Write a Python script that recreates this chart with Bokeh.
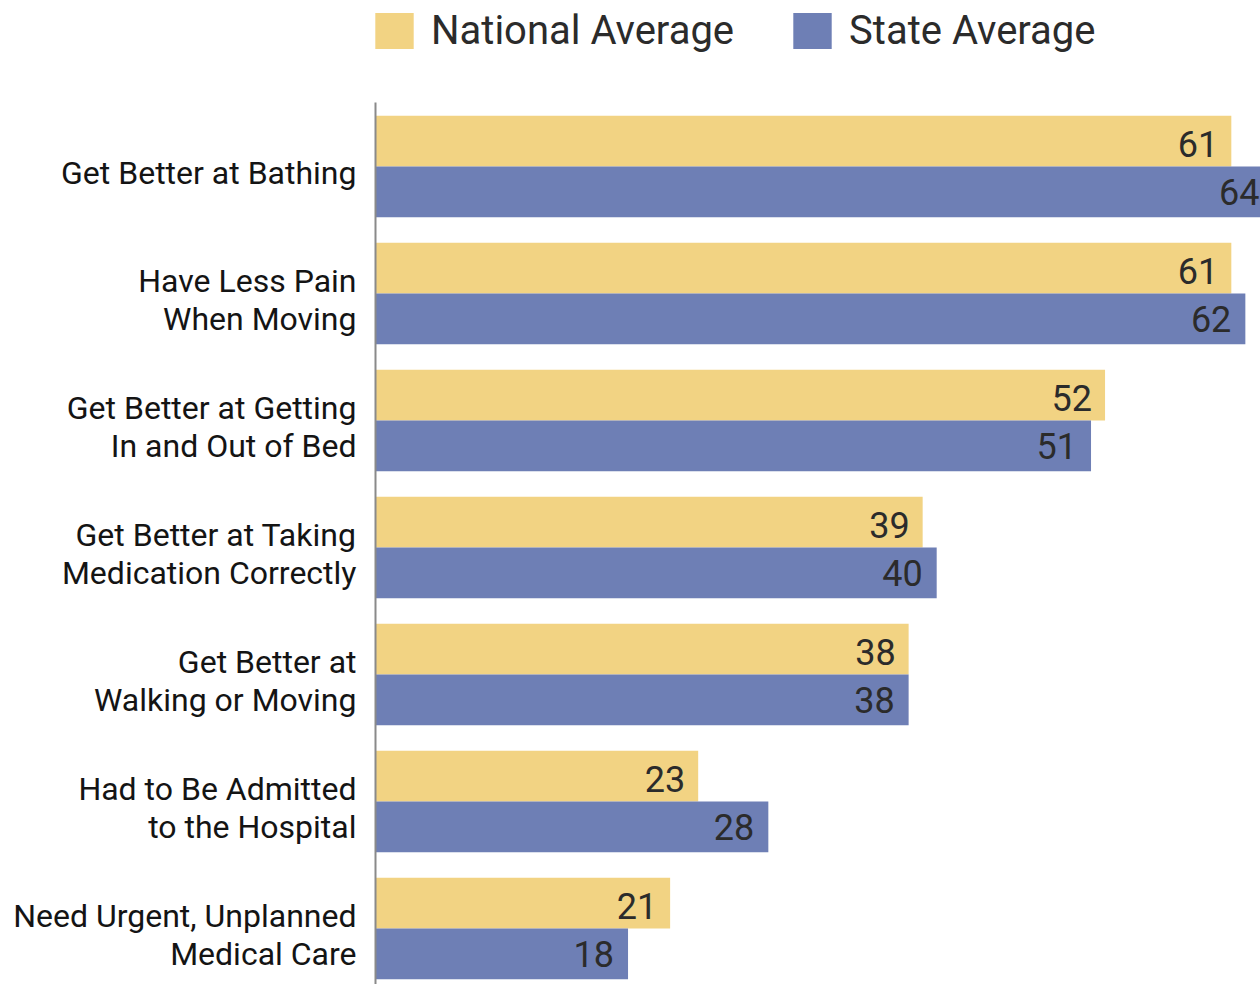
from bokeh.plotting import figure
from bokeh.models import Range1d, FixedTicker, Legend, LegendItem
from bokeh.core.properties import value
from bokeh.embed import file_html
from bokeh.resources import INLINE

categories = [
    "Get Better at Bathing",
    "Have Less Pain\nWhen Moving",
    "Get Better at Getting\nIn and Out of Bed",
    "Get Better at Taking\nMedication Correctly",
    "Get Better at\nWalking or Moving",
    "Had to Be Admitted\nto the Hospital",
    "Need Urgent, Unplanned\nMedical Care",
]
national = [61, 61, 52, 39, 38, 23, 21]
state = [64, 62, 51, 40, 38, 28, 18]
series_names = ["National Average", "State Average"]
colors = ["#F2D383", "#6E7FB5"]

n = len(categories)
y_nat = [i + 0.3 for i in range(n)]
y_state = [i + 0.7 for i in range(n)]

p = figure(width=1260, height=984,
           x_range=Range1d(0, 63.08), y_range=Range1d(6.941, -0.807),
           output_backend="svg", toolbar_location=None,
           x_axis_location=None,
           min_border_left=375, min_border_right=0,
           min_border_top=0, min_border_bottom=0)
p.outline_line_color = None
p.xgrid.grid_line_color = None
p.ygrid.grid_line_color = None
p.background_fill_color = "white"
p.border_fill_color = "white"

r1 = p.hbar(y=y_nat, left=0, right=national, height=0.4,
            fill_color=colors[0], line_color=None)
r2 = p.hbar(y=y_state, left=0, right=state, height=0.4,
            fill_color=colors[1], line_color=None)

p.text(x=national, y=y_nat, text=[str(v) for v in national],
       x_offset=-13, y_offset=3, text_align="right", text_baseline="middle",
       text_font=value("Roboto"), text_font_size="36px", text_color="#2b2b2b")
p.text(x=state, y=y_state, text=[str(v) for v in state],
       x_offset=-14, y_offset=0.5, text_align="right", text_baseline="middle",
       text_font=value("Roboto"), text_font_size="36px", text_color="#2b2b2b")

ax = p.yaxis[0]
ax.ticker = FixedTicker(ticks=[i + 0.55 for i in range(n)])
ax.major_label_overrides = {i + 0.55: c for i, c in enumerate(categories)}
ax.bounds = (0, n)
ax.axis_line_color = "#8a8a8a"
ax.axis_line_width = 2
ax.major_tick_line_color = None
ax.minor_tick_line_color = None
ax.major_label_standoff = 13
ax.major_label_text_font = "Roboto"
ax.major_label_text_font_size = "32px"
ax.major_label_text_color = "#141414"
ax.major_label_text_line_height = 1.0

legend = Legend(items=[LegendItem(label=series_names[0], renderers=[r1]),
                       LegendItem(label=series_names[1], renderers=[r2])],
                orientation="horizontal", location=(-5, 930),
                padding=0, margin=0, glyph_width=48, glyph_height=45,
                label_standoff=13, spacing=54, label_height=45,
                label_text_font="Roboto", label_text_font_size="40px",
                label_text_color="#2b2b2b",
                border_line_color=None, background_fill_alpha=0)
p.add_layout(legend)

open("out.html", "w").write(file_html(p, INLINE))
